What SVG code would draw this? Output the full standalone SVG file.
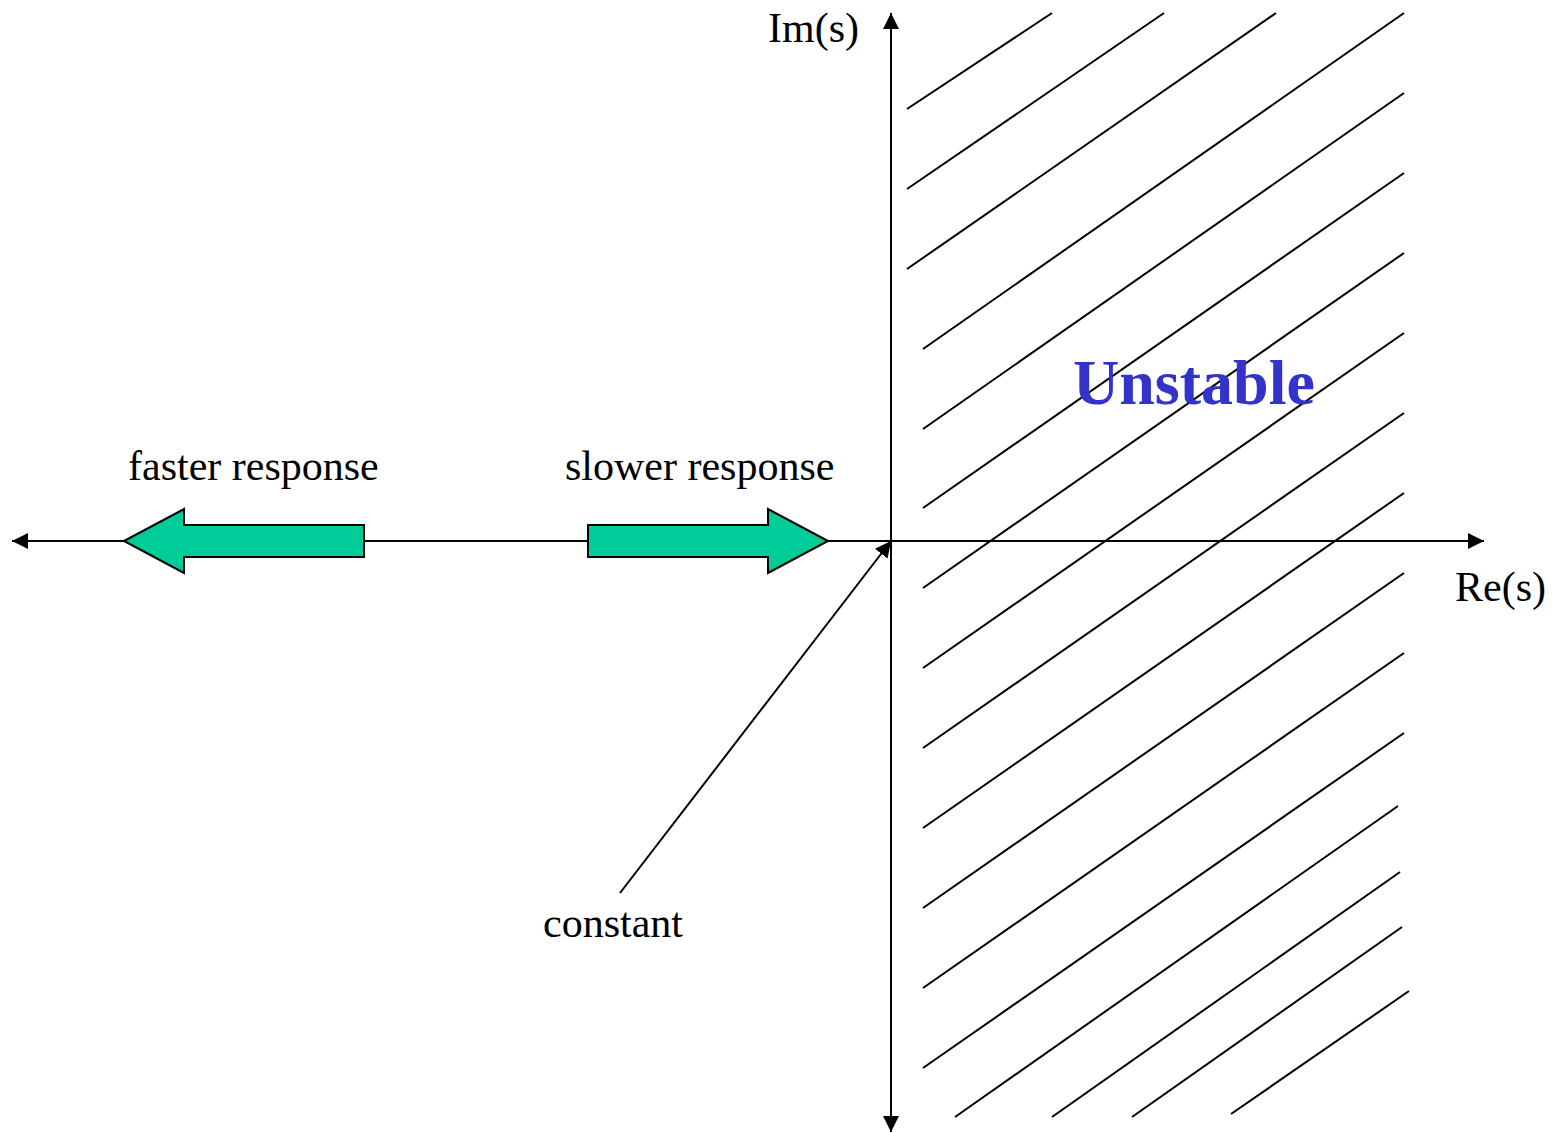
<svg xmlns="http://www.w3.org/2000/svg" width="1559" height="1133" viewBox="0 0 1559 1133">
<style>
.ax{stroke:#000;stroke-width:2;fill:none}
.h{stroke:#000;stroke-width:2;fill:none}
.g{fill:#00CC99;stroke:#000;stroke-width:2;stroke-linejoin:miter}
.t{font-family:"Liberation Serif","Times New Roman",serif;font-size:42px;fill:#000}
.u{font-family:"Liberation Serif","Times New Roman",serif;font-size:64px;font-weight:bold;fill:#3333CC}
</style>
<defs>
<marker id="ah" viewBox="0 0 16 16" refX="16" refY="8" markerWidth="16" markerHeight="16" markerUnits="userSpaceOnUse" orient="auto">
<path d="M0,0 L16,8 L0,16 Z" fill="#000"/>
</marker>
</defs>
<g id="hatch">
<line class="h" x1="907" y1="109" x2="1052" y2="13"/>
<line class="h" x1="907" y1="189" x2="1164" y2="13"/>
<line class="h" x1="907" y1="269" x2="1276" y2="13"/>
<line class="h" x1="923" y1="349" x2="1404" y2="13"/>
<line class="h" x1="923" y1="429" x2="1404" y2="93"/>
<line class="h" x1="923" y1="508" x2="1404" y2="173"/>
<line class="h" x1="923" y1="588" x2="1404" y2="253"/>
<line class="h" x1="923" y1="668" x2="1404" y2="333"/>
<line class="h" x1="923" y1="748" x2="1404" y2="413"/>
<line class="h" x1="923" y1="828" x2="1404" y2="493"/>
<line class="h" x1="923" y1="908" x2="1404" y2="573"/>
<line class="h" x1="923" y1="988" x2="1404" y2="653"/>
<line class="h" x1="923" y1="1068" x2="1404" y2="733"/>
<line class="h" x1="955" y1="1117" x2="1398" y2="806"/>
<line class="h" x1="1052" y1="1117" x2="1400" y2="872"/>
<line class="h" x1="1132" y1="1117" x2="1402" y2="927"/>
<line class="h" x1="1231" y1="1114" x2="1409" y2="991"/>
</g>
<g id="connectors">
<line id="re-axis" class="ax" x1="12" y1="541" x2="1484" y2="541" marker-end="url(#ah)"/>
<line id="re-axis-left" class="ax" x1="892" y1="541" x2="12" y2="541" marker-end="url(#ah)"/>
<line id="im-axis" class="ax" x1="891" y1="1131" x2="891" y2="13" marker-end="url(#ah)"/>
<line id="im-axis-down" class="ax" x1="891" y1="541" x2="891" y2="1132" marker-end="url(#ah)"/>
<line id="constant-arrow" class="ax" x1="620" y1="893" x2="891" y2="541" marker-end="url(#ah)"/>
</g>
<g id="faster-arrow">
<path class="g" d="M124,541 L184,509 L184,525 L364,525 L364,557 L184,557 L184,573 Z"/>
</g>
<g id="slower-arrow">
<path class="g" d="M828,541 L768,509 L768,525 L588,525 L588,557 L768,557 L768,573 Z"/>
</g>
<g id="label-im"><text class="t" x="768" y="42">Im(s)</text></g>
<g id="label-re"><text class="t" x="1455" y="601">Re(s)</text></g>
<g id="label-faster"><text class="t" x="128" y="480">faster response</text></g>
<g id="label-slower"><text class="t" x="565" y="480">slower response</text></g>
<g id="label-constant"><text class="t" x="543" y="937">constant</text></g>
<g id="label-unstable"><text class="u" x="1073" y="404">Unstable</text></g>
</svg>
